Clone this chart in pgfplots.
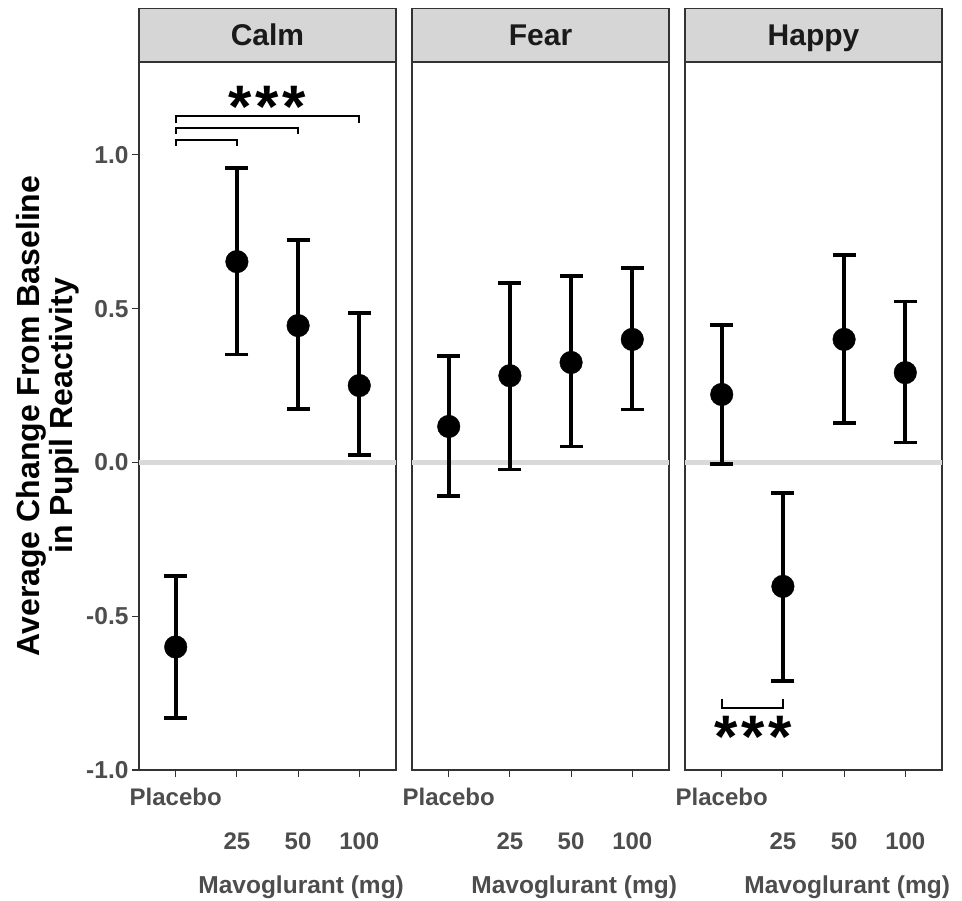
\documentclass[border=0pt]{standalone}
\usepackage{pgfplots}
\pgfplotsset{compat=1.18}
\usepackage{pgfplotstable}
\usepackage{fontspec}
\setmainfont{Liberation Sans}
\definecolor{axgray}{HTML}{333333}
\definecolor{txtgray}{HTML}{4D4D4D}
\definecolor{stripgray}{HTML}{D6D6D6}
\definecolor{zerogray}{HTML}{D9D9D9}
\definecolor{striptext}{HTML}{1A1A1A}

\pgfplotstableread{
x y ep em
0 -0.600 0.230 0.230
1 0.653 0.305 0.302
2 0.445 0.279 0.270
3 0.250 0.237 0.227
}\calm
\pgfplotstableread{
x y ep em
0 0.117 0.230 0.227
1 0.282 0.302 0.305
2 0.325 0.282 0.273
3 0.400 0.233 0.228
}\fear
\pgfplotstableread{
x y ep em
0 0.221 0.227 0.227
1 -0.403 0.303 0.308
2 0.400 0.275 0.273
3 0.292 0.231 0.227
}\happy

\tikzset{stars/.style={font=\fontsize{60}{60}\selectfont\bfseries, anchor=base, yshift=-30pt, inner sep=0pt}}
\newcommand{\threestars}{*\hspace{3.5pt}*\hspace{3.5pt}*}

\pgfplotsset{
  facet/.style={
    scale only axis, width=257pt, height=708pt,
    xmin=-0.6, xmax=3.6, ymin=-1.0, ymax=1.302,
    clip=false,
    axis line style={axgray, line width=1.3pt},
    tick style={axgray, line width=1.1pt},
    tick align=outside, major tick length=7pt,
    xtick pos=lower, ytick pos=left,
    xtick={0,1,2,3},
    xticklabels={Placebo,\smash{\raisebox{-44pt}{25}},\smash{\raisebox{-44pt}{50}},\smash{\raisebox{-44pt}{100}}},
    xticklabel style={anchor=base, yshift=-28pt, font=\fontsize{24}{28}\selectfont\bfseries, text=txtgray},
    yticklabel style={font=\fontsize{24.5}{28}\selectfont\bfseries, text=txtgray},
    xlabel={Mavoglurant (mg)},
    xlabel style={at={(rel axis cs:0.631,0)}, anchor=base, yshift=-123pt, font=\fontsize{24.5}{28}\selectfont\bfseries, text=txtgray},
    every axis title shift=0pt,
    title style={at={(rel axis cs:0.5,1)}, anchor=south, yshift=0pt, fill=stripgray, draw=axgray, line width=1.3pt,
      minimum width=257pt, minimum height=53pt, inner sep=0pt, text height=21.5pt, text depth=0pt,
      font=\fontsize{30}{36}\selectfont\bfseries, text=striptext},
  },
  pts/.style={black, only marks, mark=*, mark size=11.3pt,
    mark options={fill=black, draw=black, line width=0.4pt},
    error bars/.cd, y dir=both, y explicit,
    error bar style={line width=3.8pt, black},
    error mark options={rotate=90, mark size=11.5pt, line width=3.8pt, black}},
  zeroline/.style={zerogray, line width=4.5pt, forget plot},
  bracket/.style={black, line width=2pt, forget plot},
}

\begin{document}
\begin{tikzpicture}
\useasboundingbox (0pt,0pt) rectangle (962pt,-901pt);

% ---------- Calm ----------
\begin{axis}[facet, at={(139pt,-770pt)}, anchor=south west, title={Calm},
  ytick={-1,-0.5,0,0.5,1}, yticklabels={-1.0,-0.5,0.0,0.5,1.0},
  ylabel={Average Change From Baseline\\in Pupil Reactivity},
  ylabel style={align=center, font=\fontsize{32}{33}\selectfont\bfseries, text=black}]
  \addplot[zeroline] coordinates {(-0.6,0) (3.6,0)};
  \addplot[pts] table[x=x, y=y, y error plus=ep, y error minus=em] {\calm};
  \addplot[bracket] coordinates {(0,1.030) (0,1.049) (1,1.049) (1,1.030)};
  \addplot[bracket] coordinates {(0,1.069) (0,1.089) (2,1.089) (2,1.069)};
  \addplot[bracket] coordinates {(0,1.104) (0,1.127) (3,1.127) (3,1.104)};
  \node[stars] at (axis cs:1.5,1.188) {\threestars};
\end{axis}

% ---------- Fear ----------
\begin{axis}[facet, at={(412pt,-770pt)}, anchor=south west, title={Fear},
  ytick=\empty]
  \addplot[zeroline] coordinates {(-0.6,0) (3.6,0)};
  \addplot[pts] table[x=x, y=y, y error plus=ep, y error minus=em] {\fear};
\end{axis}

% ---------- Happy ----------
\begin{axis}[facet, at={(685pt,-770pt)}, anchor=south west, title={Happy},
  ytick=\empty]
  \addplot[zeroline] coordinates {(-0.6,0) (3.6,0)};
  \addplot[pts] table[x=x, y=y, y error plus=ep, y error minus=em] {\happy};
  \addplot[bracket] coordinates {(0,-0.768) (0,-0.797) (1,-0.797) (1,-0.768)};
  \node[stars] at (axis cs:0.51,-0.862) {\threestars};
\end{axis}
\end{tikzpicture}
\end{document}
